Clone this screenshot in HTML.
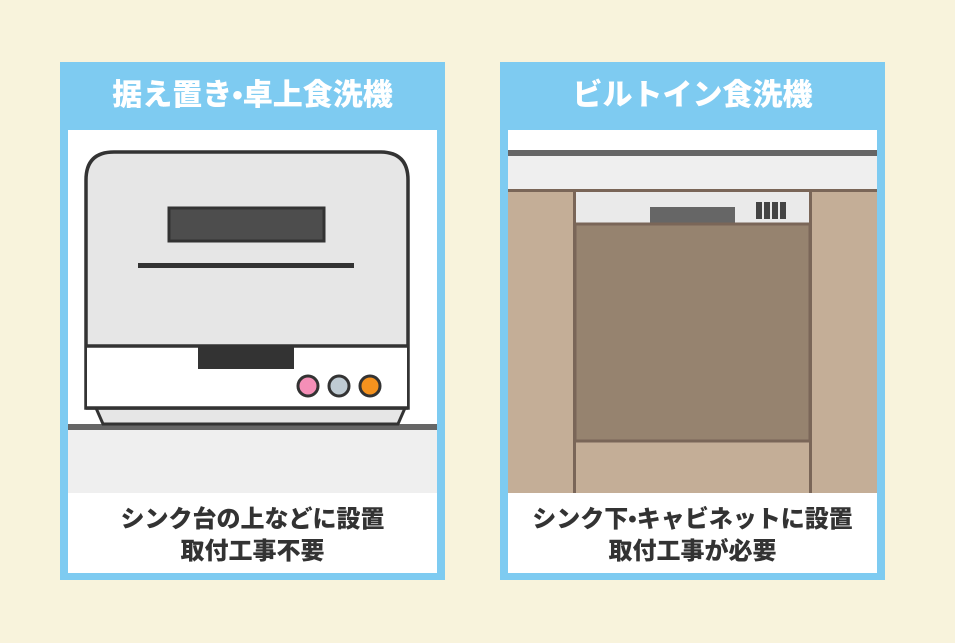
<!DOCTYPE html>
<html><head><meta charset="utf-8"><style>
body{margin:0;width:955px;height:643px;background:#f8f3dc;position:relative;overflow:hidden;font-family:"Liberation Sans","Noto Sans CJK JP",sans-serif;}
.p{position:absolute;top:62px;width:385px;height:518px;background:#7ecbf1;}
.t{position:absolute;left:0;width:100%;text-align:center;color:#fff;font-weight:900;font-size:30px;line-height:44px;}
.w{position:absolute;left:8px;top:68px;width:369px;height:443px;background:#fff;overflow:hidden;}
.cap{position:absolute;left:0;width:100%;top:374px;text-align:center;color:#333;font-weight:900;font-size:24px;line-height:32px;}
</style></head><body>
<div class="p" style="left:60px">
 <div class="t" style="top:12px">据え置き•卓上食洗機</div>
 <div class="w">
  <svg width="369" height="443" style="position:absolute;left:0;top:0">
   <rect x="0" y="298" width="369" height="65" fill="#efefef"/>
   <rect x="0" y="294" width="369" height="6" fill="#666"/>
   <path d="M28 278 L337 278 L330 294 L35 294 Z" fill="#e6e6e6" stroke="#333" stroke-width="3"/>
   <path d="M18 278 L18 50 Q18 22 46 22 L312 22 Q340 22 340 50 L340 278 Z" fill="#e6e6e6" stroke="#333" stroke-width="3.5"/>
   <rect x="19" y="216" width="320" height="61" fill="#fff"/>
   <path d="M18 216 L340 216 M18 278 L340 278" stroke="#333" stroke-width="3.5"/>
   <rect x="130" y="216" width="96" height="23" fill="#333"/>
   <rect x="101" y="78" width="155" height="33" fill="#4d4d4d" stroke="#333" stroke-width="3"/>
   <rect x="70" y="133" width="216" height="5" fill="#333"/>
   <circle cx="240" cy="256" r="10" fill="#f48fb7" stroke="#333" stroke-width="3"/>
   <circle cx="271" cy="256" r="10" fill="#bfcbd3" stroke="#333" stroke-width="3"/>
   <circle cx="302" cy="256" r="10" fill="#f5921e" stroke="#333" stroke-width="3"/>
  </svg>
  <div class="cap">シンク台の上などに設置<br>取付工事不要</div>
 </div>
</div>
<div class="p" style="left:500px">
 <div class="t" style="top:12px">ビルトイン食洗機</div>
 <div class="w">
  <svg width="369" height="443" style="position:absolute;left:0;top:0">
   <rect x="0" y="20" width="369" height="6" fill="#666"/>
   <rect x="0" y="26" width="369" height="33" fill="#efefef"/>
   <rect x="0" y="59" width="369" height="3" fill="#7a6658"/>
   <rect x="0" y="62" width="369" height="301" fill="#c4ae97"/>
   <rect x="65" y="62" width="3" height="301" fill="#7a6658"/>
   <rect x="301" y="62" width="3" height="301" fill="#7a6658"/>
   <rect x="68" y="62" width="233" height="32" fill="#eaeaea"/>
   <rect x="142" y="77" width="85" height="17" fill="#666"/>
   <rect x="248" y="72" width="6" height="17" fill="#444"/>
   <rect x="256" y="72" width="6" height="17" fill="#444"/>
   <rect x="264" y="72" width="6" height="17" fill="#444"/>
   <rect x="272" y="72" width="6" height="17" fill="#444"/>
   <rect x="67" y="94" width="235" height="217" fill="#96836f" stroke="#7a6658" stroke-width="3"/>
  </svg>
  <div class="cap">シンク下•キャビネットに設置<br>取付工事が必要</div>
 </div>
</div>
</body></html>
